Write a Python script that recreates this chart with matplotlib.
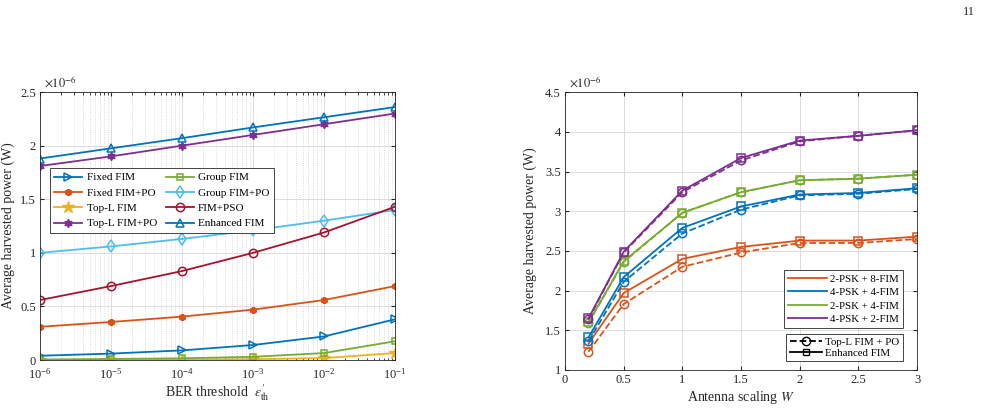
import numpy as np
import matplotlib.pyplot as plt
from matplotlib.lines import Line2D
from matplotlib.ticker import LogLocator, NullFormatter

plt.rcParams['font.family'] = ['Liberation Serif', 'DejaVu Serif']
plt.rcParams['mathtext.fontset'] = 'stix'

# ── Left panel data (units of 1e-6 W) ─────────────────────────────────────
BER = [1e-6, 1e-5, 1e-4, 1e-3, 1e-2, 1e-1]
fixed_fim = [0.04, 0.06, 0.09, 0.14, 0.22, 0.38]
fixed_fim_po = [0.31, 0.355, 0.405, 0.47, 0.56, 0.69]
topl_fim = [0.0, 0.002, 0.004, 0.008, 0.018, 0.065]
topl_fim_po = [1.81, 1.90, 2.00, 2.10, 2.20, 2.30]
group_fim = [0.005, 0.01, 0.016, 0.03, 0.065, 0.175]
group_fim_po = [1.00, 1.06, 1.13, 1.21, 1.30, 1.40]
fim_pso = [0.56, 0.69, 0.83, 1.00, 1.19, 1.43]
enhanced_fim = [1.88, 1.975, 2.07, 2.17, 2.265, 2.36]

# ── Right panel data (units of 1e-6 W) ────────────────────────────────────
W = [0.2, 0.5, 1.0, 1.5, 2.0, 2.5, 3.0]
CONFIGS = ['2-PSK + 8-FIM', '4-PSK + 4-FIM', '2-PSK + 4-FIM', '4-PSK + 2-FIM']
enh = [
    [1.33, 1.97, 2.40, 2.55, 2.63, 2.63, 2.68],
    [1.41, 2.17, 2.79, 3.06, 3.21, 3.23, 3.29],
    [1.60, 2.37, 2.98, 3.24, 3.39, 3.41, 3.46],
    [1.65, 2.49, 3.26, 3.67, 3.89, 3.95, 4.02],
]
topl = [
    [1.23, 1.83, 2.30, 2.48, 2.60, 2.60, 2.65],
    [1.36, 2.11, 2.72, 3.02, 3.20, 3.22, 3.28],
    [1.59, 2.36, 2.98, 3.24, 3.39, 3.41, 3.46],
    [1.64, 2.48, 3.24, 3.64, 3.88, 3.95, 4.02],
]

BLUE, ORANGE, YELLOW = '#0072BD', '#D95319', '#EDB120'
PURPLE, GREEN, CYAN, RED = '#7E2F8E', '#77AC30', '#4DBEEE', '#A2142F'
CFG_COLORS = [ORANGE, BLUE, GREEN, PURPLE]
INK = '#262626'


def matlab_axes(ax):
    ax.tick_params(direction='in', which='both', top=True, right=True,
                   labelsize=9, colors=INK, length=3, pad=3)
    ax.tick_params(which='minor', length=1.8)
    for s in ax.spines.values():
        s.set_color(INK); s.set_linewidth(0.6)
    ax.grid(True, which='major', color='#dcdcdc', lw=0.7)
    ax.set_axisbelow(True)


fig = plt.figure(figsize=(9.9, 4.11), dpi=100)
axL = fig.add_axes([0.0404, 0.124, 0.3586, 0.652])
axR = fig.add_axes([0.5707, 0.0998, 0.3556, 0.676])

# Left panel
series = [
    ('Fixed FIM', fixed_fim, BLUE, '>', 'none', 6, 1.1),
    ('Fixed FIM+PO', fixed_fim_po, ORANGE, (6, 2, 0), ORANGE, 5, 1.8),
    ('Top-L FIM', topl_fim, YELLOW, '*', YELLOW, 9, 1.0),
    ('Top-L FIM+PO', topl_fim_po, PURPLE, (6, 1, 0), PURPLE, 6, 1.0),
    ('Group FIM', group_fim, GREEN, 's', 'none', 5, 1.1),
    ('Group FIM+PO', group_fim_po, CYAN, 'd', 'none', 6, 1.1),
    ('FIM+PSO', fim_pso, RED, 'o', 'none', 6, 1.1),
    ('Enhanced FIM', enhanced_fim, BLUE, '^', 'none', 6, 1.1),
]
handles = {}
for name, y, c, m, fc, ms, mew in series:
    handles[name], = axL.semilogx(BER, y, color=c, marker=m, mfc=fc, mec=c,
                                  ms=ms, lw=1.3, mew=mew, label=name)
axL.set_xlim(1e-6, 1e-1)
axL.set_ylim(0, 2.5)
axL.set_yticks([0, 0.5, 1, 1.5, 2, 2.5])
axL.set_yticklabels(['0', '0.5', '1', '1.5', '2', '2.5'])
axL.xaxis.set_minor_locator(LogLocator(base=10, subs=np.arange(2, 10), numticks=20))
axL.xaxis.set_minor_formatter(NullFormatter())
matlab_axes(axL)
axL.tick_params(axis='x', which='major', pad=5)
axL.grid(True, which='minor', axis='x', color='#d0d0d0', lw=0.6, ls=':')
axL.set_xlabel(r"BER threshold  $\epsilon^{\prime}_{\mathrm{th}}$", fontsize=10,
               color=INK, labelpad=1)
axL.set_ylabel('Average harvested power (W)', fontsize=10, color=INK, labelpad=4)
axL.text(0.01, 1.005, r'$\times10^{-6}$', transform=axL.transAxes, fontsize=9,
         color=INK, va='bottom', ha='left')
order = ['Fixed FIM', 'Fixed FIM+PO', 'Top-L FIM', 'Top-L FIM+PO',
         'Group FIM', 'Group FIM+PO', 'FIM+PSO', 'Enhanced FIM']
legL = axL.legend([handles[k] for k in order], order, ncol=2, loc='upper left',
                  bbox_to_anchor=(0.028, 0.716), borderaxespad=0, fontsize=8,
                  frameon=True, framealpha=1, fancybox=False, edgecolor=INK,
                  handlelength=2.5, columnspacing=0.8, handletextpad=0.4,
                  labelspacing=0.5, borderpad=0.4)
legL.get_frame().set_linewidth(0.6)

# Right panel
for i, c in enumerate(CFG_COLORS):
    axR.plot(W, topl[i], color=c, ls='--', marker='o', mfc='none', mec=c,
             ms=6, lw=1.3, mew=1.1)
    axR.plot(W, enh[i], color=c, ls='-', marker='s', mfc='none', mec=c,
             ms=6, lw=1.3, mew=1.1)
axR.set_xlim(0, 3)
axR.set_ylim(1, 4.5)
axR.set_xticks([0, 0.5, 1, 1.5, 2, 2.5, 3])
axR.set_xticklabels(['0', '0.5', '1', '1.5', '2', '2.5', '3'])
axR.set_yticks([1, 1.5, 2, 2.5, 3, 3.5, 4, 4.5])
axR.set_yticklabels(['1', '1.5', '2', '2.5', '3', '3.5', '4', '4.5'])
matlab_axes(axR)
axR.set_xlabel(r'Antenna scaling $W$', fontsize=10, color=INK, labelpad=2)
axR.set_ylabel('Average harvested power (W)', fontsize=10, color=INK, labelpad=6)
axR.text(0.01, 1.005, r'$\times10^{-6}$', transform=axR.transAxes, fontsize=9,
         color=INK, va='bottom', ha='left')

cfg_handles = [Line2D([], [], color=c, lw=1.3) for c in CFG_COLORS]
leg1 = axR.legend(cfg_handles, CONFIGS, loc='lower right',
                  bbox_to_anchor=(0.96, 0.151), borderaxespad=0, fontsize=7.8,
                  framealpha=1, fancybox=False, edgecolor=INK, handlelength=3.6,
                  handletextpad=0.3, labelspacing=0.36, borderpad=0.35)
leg1.get_frame().set_linewidth(0.6)
axR.add_artist(leg1)
style_handles = [
    Line2D([], [], color='k', ls='--', marker='o', mfc='none', ms=6, lw=1.3),
    Line2D([], [], color='k', ls='-', marker='s', mfc='none', ms=5, lw=1.3),
]
leg2 = axR.legend(style_handles, ['Top-L FIM + PO', 'Enhanced FIM'],
                  loc='lower right', bbox_to_anchor=(0.96, 0.032),
                  borderaxespad=0, fontsize=7.8, framealpha=1, fancybox=False,
                  edgecolor=INK, handlelength=3.0, handletextpad=0.3,
                  labelspacing=0.15, borderpad=0.3)
leg2.get_frame().set_linewidth(0.6)

fig.text(0.985, 0.97, '11', fontsize=9, ha='right', va='center', color=INK)

fig.savefig('out.png', dpi=100)
